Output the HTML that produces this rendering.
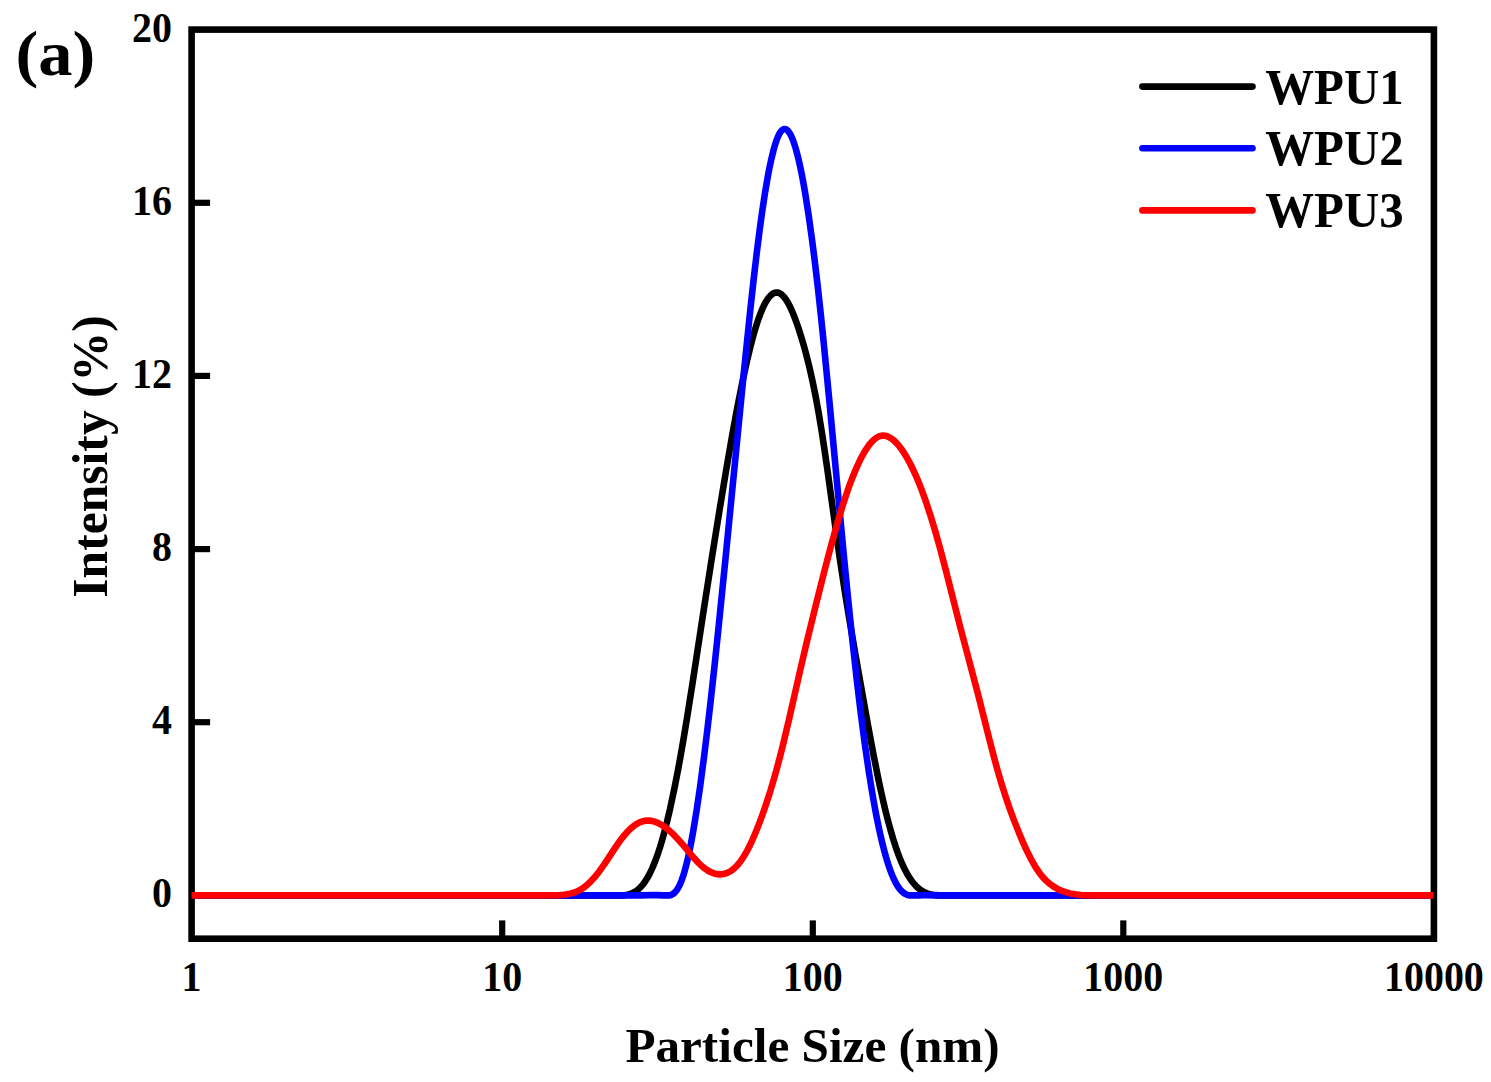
<!DOCTYPE html>
<html><head><meta charset="utf-8"><style>
html,body{margin:0;padding:0;background:#fff;overflow:hidden}
svg{display:block}
text{font-family:"Liberation Serif",serif;font-weight:bold;fill:#000}
.tl{font-size:42.5px}
.al{font-size:50px}
.lg{font-size:50.7px}
.pa{font-size:64.6px}
</style></head><body>
<svg width="1491" height="1082" viewBox="0 0 1491 1082">
<rect x="0" y="0" width="1491" height="1082" fill="#fff"/>
<rect x="191.6" y="29.6" width="1242.3" height="909.1" fill="none" stroke="#000" stroke-width="6.6"/>
<path d="M191.60,895.40 L582.60,895.40 L595.10,895.33 L622.10,895.40 L625.10,895.10 L627.60,894.66 L630.10,893.99 L632.60,893.03 L634.60,892.00 L636.60,890.72 L638.60,889.13 L640.60,887.22 L643.10,884.31 L645.10,881.54 L647.60,877.51 L649.60,873.81 L652.10,868.56 L654.10,863.86 L656.10,858.69 L658.10,853.05 L660.10,846.91 L662.10,840.27 L664.10,833.11 L666.10,825.46 L670.10,808.68 L674.60,787.56 L677.60,772.22 L680.60,755.91 L683.60,738.67 L687.10,717.54 L692.60,682.74 L704.10,607.62 L711.60,559.53 L719.10,512.73 L726.10,470.46 L732.10,435.86 L737.10,408.67 L742.10,383.38 L746.60,362.58 L750.60,345.90 L752.60,338.27 L754.60,331.15 L756.60,324.57 L758.60,318.56 L760.60,313.14 L762.10,309.48 L764.10,305.14 L766.10,301.44 L768.10,298.37 L769.60,296.49 L771.60,294.54 L773.10,293.50 L774.10,293.01 L775.10,292.68 L776.60,292.49 L777.60,292.57 L778.60,292.81 L780.10,293.48 L781.10,294.13 L782.10,294.95 L784.10,297.05 L786.10,299.76 L788.10,303.06 L790.10,306.89 L792.10,311.25 L794.10,316.10 L796.60,322.79 L798.60,328.62 L801.10,336.46 L803.60,344.90 L805.60,352.13 L807.60,359.83 L809.60,368.05 L812.60,381.45 L815.60,396.25 L818.60,412.61 L821.60,430.67 L824.10,446.93 L827.10,467.54 L836.60,535.98 L840.10,560.45 L844.60,590.01 L849.10,617.72 L855.60,655.57 L867.10,720.30 L873.10,752.60 L878.10,777.74 L880.60,789.50 L883.10,800.64 L885.60,811.14 L888.10,821.00 L890.60,830.19 L893.10,838.72 L895.60,846.57 L897.60,852.35 L899.60,857.67 L902.10,863.70 L904.60,869.06 L907.10,873.78 L909.60,877.91 L912.10,881.48 L914.60,884.53 L917.60,887.55 L919.60,889.22 L922.10,890.94 L924.60,892.30 L927.10,893.35 L929.60,894.12 L932.60,894.76 L935.60,895.15 L939.10,895.40 L1433.60,895.40" fill="none" stroke="#000" stroke-width="6.6" stroke-linejoin="round"/>
<path d="M191.60,895.40 L641.60,895.40 L654.10,895.07 L658.10,895.14 L662.10,895.40 L669.60,895.40 L670.10,895.33 L671.10,894.98 L672.10,894.50 L673.10,893.87 L674.60,892.62 L676.10,890.96 L677.10,889.60 L678.10,888.01 L679.60,885.17 L681.60,880.46 L683.10,876.17 L684.60,871.23 L686.10,865.66 L687.60,859.48 L689.60,850.32 L691.10,842.78 L693.10,831.87 L696.60,810.57 L700.10,786.65 L704.10,756.39 L707.10,731.89 L710.60,701.61 L714.10,669.77 L718.10,631.84 L725.60,557.66 L743.10,379.81 L750.10,311.75 L753.60,279.90 L756.60,254.24 L759.60,230.40 L762.10,212.13 L765.10,192.32 L768.10,174.93 L769.60,167.20 L771.10,160.13 L773.60,149.86 L775.10,144.63 L776.60,140.13 L778.10,136.38 L779.10,134.30 L780.60,131.82 L781.60,130.61 L782.10,130.13 L783.10,129.44 L783.60,129.22 L784.60,129.03 L785.10,129.07 L786.10,129.38 L786.60,129.66 L787.60,130.47 L789.10,132.28 L790.10,133.88 L791.10,135.79 L792.60,139.22 L794.60,144.85 L796.10,149.84 L798.10,157.48 L799.60,163.93 L801.60,173.47 L803.10,181.32 L805.10,192.67 L808.60,214.93 L812.10,240.11 L814.60,259.80 L817.60,285.23 L820.60,312.53 L823.60,341.56 L829.10,398.14 L843.60,553.13 L848.10,598.81 L852.10,637.48 L856.60,678.33 L860.60,711.85 L864.60,742.47 L868.60,770.17 L872.10,792.02 L874.10,803.51 L876.10,814.28 L878.10,824.32 L880.10,833.65 L882.10,842.27 L884.10,850.18 L886.10,857.40 L888.10,863.94 L890.10,869.81 L892.10,875.02 L894.10,879.58 L896.10,883.51 L898.10,886.82 L900.10,889.51 L902.10,891.62 L903.10,892.48 L904.60,893.54 L905.60,894.11 L907.10,894.78 L908.60,895.26 L909.60,895.40 L919.10,895.40 L922.60,895.22 L926.60,895.15 L939.10,895.40 L1433.60,895.40" fill="none" stroke="#0000ff" stroke-width="6.6" stroke-linejoin="round"/>
<path d="M191.60,895.40 L550.10,895.40 L555.10,895.30 L559.60,895.08 L563.60,894.73 L567.10,894.25 L570.10,893.67 L573.10,892.86 L576.10,891.80 L578.60,890.67 L581.10,889.29 L583.10,888.00 L585.60,886.12 L588.10,883.97 L590.60,881.56 L593.60,878.34 L596.60,874.78 L599.60,870.92 L604.60,863.88 L615.10,847.92 L619.10,842.09 L623.10,836.76 L627.10,832.09 L629.60,829.54 L632.10,827.28 L634.60,825.34 L637.10,823.71 L639.60,822.42 L642.10,821.46 L644.60,820.85 L647.10,820.58 L649.60,820.64 L652.10,821.00 L654.60,821.66 L657.10,822.59 L659.60,823.79 L662.10,825.24 L664.60,826.93 L667.60,829.24 L670.10,831.38 L672.60,833.70 L675.10,836.20 L678.10,839.38 L682.60,844.49 L693.10,857.01 L698.10,862.49 L700.60,864.94 L703.10,867.14 L705.60,869.07 L708.10,870.71 L711.10,872.29 L714.10,873.43 L717.10,874.11 L720.10,874.34 L721.60,874.27 L723.10,874.07 L725.60,873.47 L727.10,872.92 L728.60,872.24 L731.10,870.79 L733.60,868.91 L736.10,866.59 L738.60,863.81 L740.60,861.24 L742.60,858.36 L745.10,854.31 L747.10,850.74 L749.60,845.88 L752.10,840.59 L754.60,834.91 L757.10,828.84 L760.10,821.10 L763.10,812.87 L765.60,805.66 L770.60,790.15 L774.10,778.39 L777.10,767.68 L780.10,756.36 L783.10,744.41 L788.60,721.21 L800.10,670.61 L806.60,642.83 L815.10,607.92 L824.60,570.27 L831.10,545.52 L837.10,523.99 L842.60,505.76 L847.60,490.69 L850.10,483.73 L852.60,477.16 L855.10,471.02 L857.10,466.41 L859.60,461.05 L861.60,457.09 L864.10,452.56 L866.10,449.29 L868.60,445.66 L870.60,443.14 L872.60,440.96 L874.60,439.14 L877.10,437.39 L879.10,436.41 L881.10,435.82 L883.10,435.61 L885.10,435.78 L886.10,435.99 L887.60,436.48 L889.60,437.42 L892.10,439.05 L894.60,441.15 L897.10,443.71 L899.60,446.68 L902.10,450.06 L904.60,453.83 L907.10,457.99 L909.60,462.54 L912.10,467.48 L914.60,472.81 L917.10,478.52 L919.60,484.61 L922.60,492.43 L926.60,503.68 L931.10,517.46 L935.10,530.67 L939.60,546.61 L945.60,569.37 L960.10,626.52 L977.60,692.61 L989.60,740.19 L993.60,755.67 L996.60,766.80 L999.10,775.65 L1001.60,784.06 L1004.60,793.60 L1007.10,801.14 L1010.10,809.73 L1013.10,817.88 L1016.10,825.65 L1019.60,834.29 L1022.60,841.36 L1025.60,848.06 L1028.60,854.35 L1031.10,859.24 L1033.60,863.78 L1036.10,867.94 L1038.60,871.70 L1041.10,875.04 L1043.60,878.00 L1046.10,880.60 L1049.10,883.29 L1052.60,885.92 L1056.60,888.36 L1058.60,889.39 L1061.10,890.52 L1065.60,892.18 L1070.10,893.40 L1075.10,894.33 L1080.60,894.95 L1086.60,895.29 L1094.10,895.40 L1433.60,895.40" fill="none" stroke="#ff0000" stroke-width="6.6" stroke-linejoin="round"/>
<line x1="191.6" y1="722.2" x2="210.1" y2="722.2" stroke="#000" stroke-width="6.2"/>
<line x1="191.6" y1="549.1" x2="210.1" y2="549.1" stroke="#000" stroke-width="6.2"/>
<line x1="191.6" y1="375.9" x2="210.1" y2="375.9" stroke="#000" stroke-width="6.2"/>
<line x1="191.6" y1="202.8" x2="210.1" y2="202.8" stroke="#000" stroke-width="6.2"/>
<line x1="502.2" y1="938.7" x2="502.2" y2="920.4" stroke="#000" stroke-width="6.2"/>
<line x1="812.8" y1="938.7" x2="812.8" y2="920.4" stroke="#000" stroke-width="6.2"/>
<line x1="1123.3" y1="938.7" x2="1123.3" y2="920.4" stroke="#000" stroke-width="6.2"/>
<text transform="translate(171.9,907.2) scale(0.94,1)" class="tl" text-anchor="end">0</text>
<text transform="translate(171.9,734.1) scale(0.94,1)" class="tl" text-anchor="end">4</text>
<text transform="translate(171.9,560.9) scale(0.94,1)" class="tl" text-anchor="end">8</text>
<text transform="translate(171.9,387.8) scale(0.94,1)" class="tl" text-anchor="end">12</text>
<text transform="translate(171.9,214.6) scale(0.94,1)" class="tl" text-anchor="end">16</text>
<text transform="translate(171.9,41.5) scale(0.94,1)" class="tl" text-anchor="end">20</text>
<text transform="translate(191.6,990.8) scale(0.94,1)" class="tl" text-anchor="middle">1</text>
<text transform="translate(502.2,990.8) scale(0.94,1)" class="tl" text-anchor="middle">10</text>
<text transform="translate(812.8,990.8) scale(0.94,1)" class="tl" text-anchor="middle">100</text>
<text transform="translate(1123.3,990.8) scale(0.94,1)" class="tl" text-anchor="middle">1000</text>
<text transform="translate(1433.9,990.8) scale(0.94,1)" class="tl" text-anchor="middle">10000</text>
<text x="812.5" y="1062.3" class="al" style="font-size:49.2px" text-anchor="middle">Particle Size (nm)</text>
<text transform="translate(107.2,456.5) rotate(-90)" x="0" y="0" class="al" style="font-size:49.6px" text-anchor="middle">Intensity (%)</text>
<text transform="translate(15.5,75.2) scale(1.079,1)" class="pa" style="font-size:63.4px">(a)</text>
<line x1="1142.4" y1="86.6" x2="1252.5" y2="86.6" stroke="#000" stroke-width="6.6" stroke-linecap="round"/>
<text transform="translate(1265.3,103.8) scale(0.963,1)" class="lg">WPU1</text>
<line x1="1142.4" y1="148.2" x2="1252.5" y2="148.2" stroke="#0000ff" stroke-width="6.6" stroke-linecap="round"/>
<text transform="translate(1265.3,165.2) scale(0.963,1)" class="lg">WPU2</text>
<line x1="1142.4" y1="210.4" x2="1252.5" y2="210.4" stroke="#ff0000" stroke-width="6.6" stroke-linecap="round"/>
<text transform="translate(1265.3,227.2) scale(0.963,1)" class="lg">WPU3</text>
</svg>
</body></html>
